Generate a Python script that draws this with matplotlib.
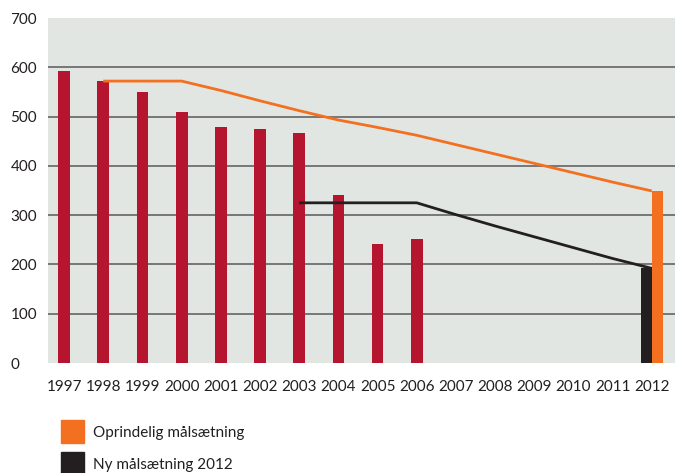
import matplotlib
matplotlib.use("Agg")
import matplotlib.pyplot as plt
from matplotlib.patches import Rectangle

plt.rcParams['font.family'] = ['Lato', 'DejaVu Sans']

# actual values per year
years = [1997, 1998, 1999, 2000, 2001, 2002, 2003, 2004, 2005, 2006]
actual = [593, 572, 550, 509, 479, 475, 467, 341, 241, 251]

# original target (orange line)
orig_years = list(range(1998, 2013))
orig_target = [572, 572, 572, 553, 532, 512, 493, 478, 462, 443, 424, 405, 386, 367, 349]

# new target 2012 (black line)
new_years = list(range(2003, 2013))
new_target = [325, 325, 325, 325, 301, 278, 256, 234, 212, 192]

all_years = list(range(1997, 2013))
yticks = [0, 100, 200, 300, 400, 500, 600, 700]

red = '#b5152f'
orange = '#f37021'
black = '#231f20'
bg = '#e2e6e3'

fig = plt.figure(figsize=(6.75, 4.73), dpi=100)
ax = fig.add_axes([48/675, 1 - 363/473, 627/675, 345/473])
ax.set_facecolor(bg)

for v in yticks[1:-1]:
    ax.axhline(v, color='#6e6e6e', lw=1.3, zorder=1)

ax.bar(years, actual, width=0.3, color=red, zorder=2)
ax.plot(orig_years, orig_target, color=orange, lw=2, zorder=3, solid_capstyle='butt')
ax.plot(new_years, new_target, color=black, lw=2, zorder=3, solid_capstyle='butt')
ax.bar(2012 - 0.137, new_target[-1], width=0.274, color=black, zorder=4)
ax.bar(2012 + 0.137, orig_target[-1], width=0.274, color=orange, zorder=4)

ax.set_xlim(1996.59, 2012.59)
ax.set_ylim(0, 700)
ax.set_xticks(all_years)
ax.set_xticklabels([str(y) for y in all_years])
ax.set_yticks(yticks)
ax.tick_params(length=0, labelsize=11, colors='#231f20', pad=12)
ax.tick_params(axis='y', pad=27)
for lab in ax.get_yticklabels():
    lab.set_ha('left')
for s in ax.spines.values():
    s.set_visible(False)

# legend
fig.add_artist(Rectangle((61/675, 1 - 443/473), 23/675, 23/473,
                         transform=fig.transFigure, color=orange))
fig.add_artist(Rectangle((61/675, 1 - 475/473), 23/675, 23/473,
                         transform=fig.transFigure, color=black))
fig.text(93/675, 1 - 433/473, 'Oprindelig målsætning', fontsize=11,
         va='center', color='#231f20')
fig.text(93/675, 1 - 465/473, 'Ny målsætning 2012', fontsize=11,
         va='center', color='#231f20')

fig.savefig('out.png', dpi=100)
